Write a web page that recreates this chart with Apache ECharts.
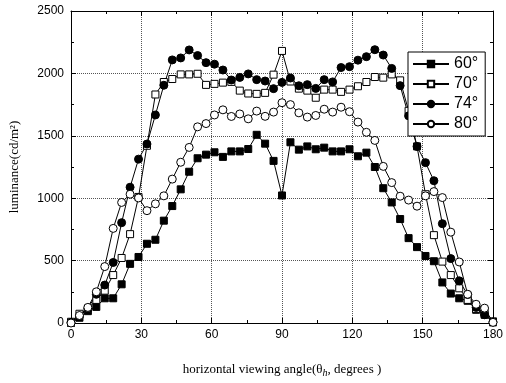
<!DOCTYPE html>
<html>
<head>
<meta charset="utf-8">
<script src="https://cdn.jsdelivr.net/npm/echarts@6/dist/echarts.min.js"></script>
<style>
  html, body { margin: 0; padding: 0; background: #fff; }
  #chart { width: 506px; height: 383px; }
</style>
</head>
<body>
<div id="chart"></div>
<script>
// Horizontal viewing angle, degrees
const angles = [0, 3.6, 7.2, 10.8, 14.4, 18, 21.6, 25.2, 28.8, 32.4,
  36, 39.6, 43.2, 46.8, 50.4, 54, 57.6, 61.2, 64.8, 68.4,
  72, 75.6, 79.2, 82.8, 86.4, 90, 93.6, 97.2, 100.8, 104.4,
  108, 111.6, 115.2, 118.8, 122.4, 126, 129.6, 133.2, 136.8, 140.4,
  144, 147.6, 151.2, 154.8, 158.4, 162, 165.6, 169.2, 172.8, 176.4, 180];

// Luminance (cd/m²) for each vertical setting
const lum60 = [0, 42, 95, 129, 198, 198, 310, 474, 529, 635,
  667, 820, 937, 1071, 1212, 1320, 1349, 1368, 1331, 1375,
  1375, 1394, 1508, 1437, 1299, 1022, 1448, 1389, 1415, 1392,
  1405, 1375, 1375, 1392, 1336, 1365, 1250, 1080, 966, 833,
  680, 608, 537, 495, 325, 236, 198, 178, 106, 66, 13];

const lum70 = [10, 74, 115, 185, 259, 384, 521, 712, 1010, 1420,
  1831, 1931, 1955, 1992, 1992, 1997, 1908, 1916, 1926, 1932,
  1862, 1839, 1836, 1844, 1990, 2180, 1935, 1878, 1862, 1805,
  1870, 1870, 1852, 1870, 1897, 1931, 1971, 1966, 1992, 1944,
  1700, 1415, 1032, 704, 492, 384, 278, 185, 113, 88, 5];

const lum74 = [5, 55, 115, 230, 304, 485, 804, 1088, 1313, 1434,
  1667, 1905, 2108, 2124, 2188, 2143, 2086, 2074, 2027, 1947,
  1968, 1996, 1950, 1939, 1878, 1928, 1963, 1901, 1910, 1880,
  1950, 1932, 2047, 2054, 2106, 2134, 2190, 2147, 2040, 1902,
  1660, 1415, 1285, 1140, 796, 516, 338, 228, 125, 66, 8];

const lum80 = [0, 60, 125, 250, 452, 758, 966, 1032, 1002, 900,
  955, 1019, 1153, 1288, 1407, 1572, 1598, 1667, 1708, 1655,
  1675, 1636, 1698, 1656, 1690, 1765, 1750, 1684, 1650, 1663,
  1713, 1690, 1729, 1693, 1610, 1528, 1463, 1255, 1125, 1016,
  985, 936, 1019, 1053, 1005, 728, 489, 230, 150, 119, 5];

const seriesNames = ['60°', '70°', '74°', '80°'];

const sans = 'Liberation Sans, Arial, sans-serif';
const serif = 'Liberation Serif, Times New Roman, serif';

function lineSeries(name, values, symbol, filled, size) {
  return {
    name: name,
    type: 'line',
    data: angles.map((a, i) => [a, values[i]]),
    symbol: symbol,
    symbolSize: size,
    showAllSymbol: true,
    lineStyle: { color: '#000', width: 1 },
    itemStyle: { color: filled ? '#000' : '#fff', borderColor: '#000', borderWidth: 1 },
    emphasis: { disabled: true },
    animation: false
  };
}

const black = { color: '#000', width: 1 };
const plain = v => String(v);

const chart = echarts.init(document.getElementById('chart'), null, { renderer: 'canvas' });
chart.setOption({
  backgroundColor: '#fff',
  animation: false,
  grid: { left: 69, right: 11, top: 11, bottom: 58, containLabel: false },
  legend: {
    data: seriesNames,
    orient: 'vertical',
    left: 408,
    top: 52,
    backgroundColor: '#fff',
    borderColor: '#000',
    borderWidth: 1,
    padding: [4, 7, 4, 4],
    itemGap: 4,
    itemWidth: 36,
    itemHeight: 8,
    textStyle: { fontFamily: sans, fontSize: 16, color: '#000' },
    z: 10
  },
  xAxis: [{
    type: 'value', min: 0, max: 180, interval: 30, position: 'bottom',
    axisLine: { show: true, onZero: false, lineStyle: black },
    axisTick: { show: true, inside: true, length: 5, lineStyle: black },
    minorTick: { show: true, splitNumber: 2, length: 3, lineStyle: black },
    splitLine: { show: true, lineStyle: { type: 'dotted', color: '#555', width: 1 } },
    axisLabel: { fontFamily: sans, fontSize: 12, color: '#000', margin: 6, formatter: plain },
    name: 'horizontal viewing angle(θ{h|h}, degrees )',
    nameLocation: 'middle',
    nameGap: 38,
    nameTextStyle: {
      fontFamily: serif, fontSize: 13, color: '#000',
      rich: { h: { fontFamily: serif, fontStyle: 'italic', fontSize: 10, color: '#000', padding: [7, 0, 0, 0] } }
    }
  }, {
    type: 'value', min: 0, max: 180, interval: 30, position: 'top',
    axisLine: { show: true, onZero: false, lineStyle: black },
    axisTick: { show: true, inside: true, length: 5, lineStyle: black },
    minorTick: { show: true, splitNumber: 2, length: 3, lineStyle: black },
    splitLine: { show: false },
    axisLabel: { show: false }
  }],
  yAxis: [{
    type: 'value', min: 0, max: 2500, interval: 500, position: 'left',
    axisLine: { show: true, onZero: false, lineStyle: black },
    axisTick: { show: true, inside: true, length: 5, lineStyle: black },
    minorTick: { show: true, splitNumber: 2, length: 3, lineStyle: black },
    splitLine: { show: true, lineStyle: { type: 'dotted', color: '#555', width: 1 } },
    axisLabel: { fontFamily: sans, fontSize: 12, color: '#000', margin: 7, formatter: plain },
    name: 'luminance(cd/m²)',
    nameLocation: 'middle',
    nameGap: 50,
    nameTextStyle: { fontFamily: serif, fontSize: 13, color: '#000' }
  }, {
    type: 'value', min: 0, max: 2500, interval: 500, position: 'right',
    axisLine: { show: true, onZero: false, lineStyle: black },
    axisTick: { show: true, inside: true, length: 5, lineStyle: black },
    minorTick: { show: true, splitNumber: 2, length: 3, lineStyle: black },
    splitLine: { show: false },
    axisLabel: { show: false }
  }],
  series: [
    lineSeries(seriesNames[0], lum60, 'rect', true, 7),
    lineSeries(seriesNames[1], lum70, 'rect', false, 7),
    lineSeries(seriesNames[2], lum74, 'circle', true, 8),
    lineSeries(seriesNames[3], lum80, 'circle', false, 8)
  ]
});
</script>
</body>
</html>
